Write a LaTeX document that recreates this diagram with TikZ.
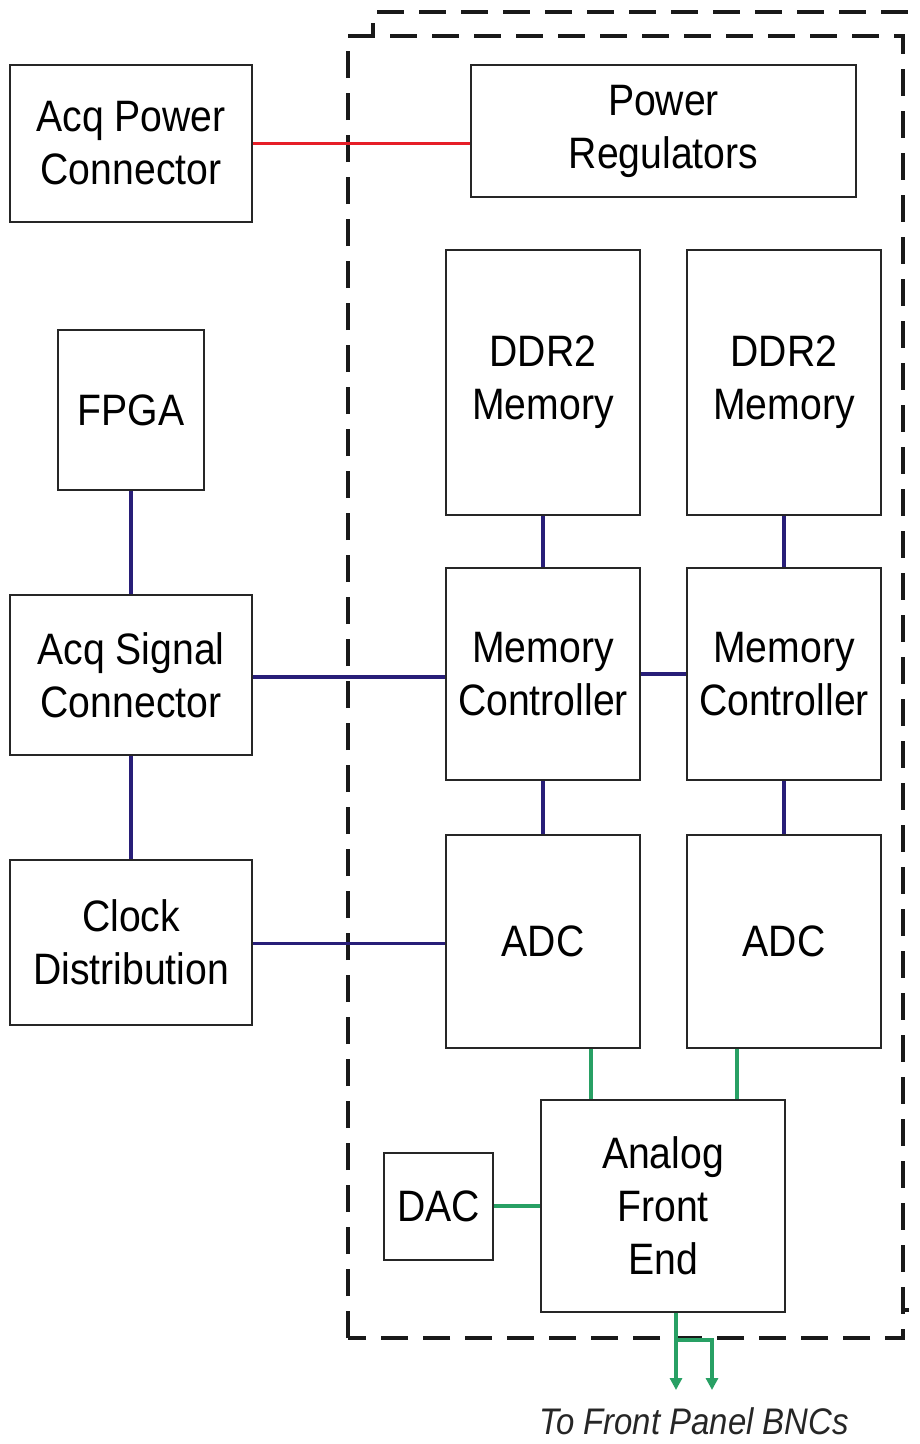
\documentclass[tikz,border=0pt]{standalone}
\usepackage{fontspec}
\setmainfont[FakeStretch=0.89]{Liberation Sans}
\usetikzlibrary{arrows.meta}
\definecolor{navyc}{RGB}{40,30,120}
\definecolor{redc}{RGB}{230,30,40}
\definecolor{greenc}{RGB}{40,160,100}
\tikzset{
  blk/.style={draw=black!85, line width=2pt, fill=white, align=center, inner sep=0pt,
    font=\fontsize{44}{53}\selectfont},
  navyline/.style={draw=navyc, line width=3.5pt},
  redline/.style={draw=redc, line width=3.5pt},
  greenline/.style={draw=greenc, line width=3.5pt},
  dashbox/.style={draw=black!90, line width=4pt, dash pattern=on 27pt off 15pt},
}
\begin{document}
\begin{tikzpicture}[x=1pt,y=-1pt]
\useasboundingbox (0,0) rectangle (919,1444);
\clip (0,0) rectangle (919,1444);
\fill[white] (0,0) rectangle (919,1444);
% dashed enclosures
\draw[dashbox] (373,1310) rectangle (960,12);
\draw[dashbox, fill=white] (348,1338) -- (348,36) -- (903,36) -- (903,1338) -- cycle;
% blocks
\node[blk, minimum width=242, minimum height=157] (apc) at (131,143.5) {Acq Power\\Connector};
\node[blk, minimum width=385, minimum height=132] (preg) at (663.5,131) {Power\\Regulators};
\node[blk, minimum width=146, minimum height=160] (fpga) at (131,410) {FPGA};
\node[blk, minimum width=194, minimum height=265] (ddr1) at (543,382.5) {DDR2\\Memory};
\node[blk, minimum width=194, minimum height=265] (ddr2) at (784,382.5) {DDR2\\Memory};
\node[blk, minimum width=242, minimum height=160] (asc) at (131,675) {Acq Signal\\Connector};
\node[blk, minimum width=194, minimum height=212] (mc1) at (543,674) {Memory\\Controller};
\node[blk, minimum width=194, minimum height=212] (mc2) at (784,674) {Memory\\Controller};
\node[blk, minimum width=242, minimum height=165] (clk) at (131,942.5) {Clock\\Distribution};
\node[blk, minimum width=194, minimum height=213] (adc1) at (543,941.5) {ADC};
\node[blk, minimum width=194, minimum height=213] (adc2) at (784,941.5) {ADC};
\node[blk, minimum width=244, minimum height=212] (afe) at (663,1206) {Analog\\Front\\End};
\node[blk, minimum width=109, minimum height=107] (dac) at (438.5,1206) {DAC};
\node[font=\itshape\fontsize{37}{44}\selectfont, text=black!85] (bnc) at (694,1421) {To Front Panel BNCs};
% connectors
\draw[redline] (apc.east) -- (apc.east -| preg.west);
\draw[navyline] (fpga.south) -- (asc.north);
\draw[navyline] (asc.south) -- (clk.north);
\draw[navyline] ([yshift=-2]asc.east) -- ([yshift=-2]asc.east -| mc1.west);
\draw[navyline] (mc1.east) -- (mc2.west);
\draw[navyline] (ddr1.south) -- (mc1.north);
\draw[navyline] (ddr2.south) -- (mc2.north);
\draw[navyline] (mc1.south) -- (adc1.north);
\draw[navyline] (mc2.south) -- (adc2.north);
\draw[navyline] ([yshift=-1]clk.east) -- ([yshift=-1]clk.east -| adc1.west);
\draw[greenline] ([xshift=48]adc1.south) -- ([xshift=48]adc1.south |- afe.north);
\draw[greenline] ([xshift=-47]adc2.south) -- ([xshift=-47]adc2.south |- afe.north);
\draw[greenline] (dac.east) -- (afe.west);
\coordinate (t1) at (676,1390);
\coordinate (t2) at (712,1390);
\coordinate (br) at (676,1340);
\draw[greenline, -{Triangle[length=12pt,width=12pt]}] ([xshift=13]afe.south) -- (t1);
\draw[greenline, -{Triangle[length=12pt,width=12pt]}] (br) -- (br -| t2) -- (t2);
\end{tikzpicture}
\end{document}
